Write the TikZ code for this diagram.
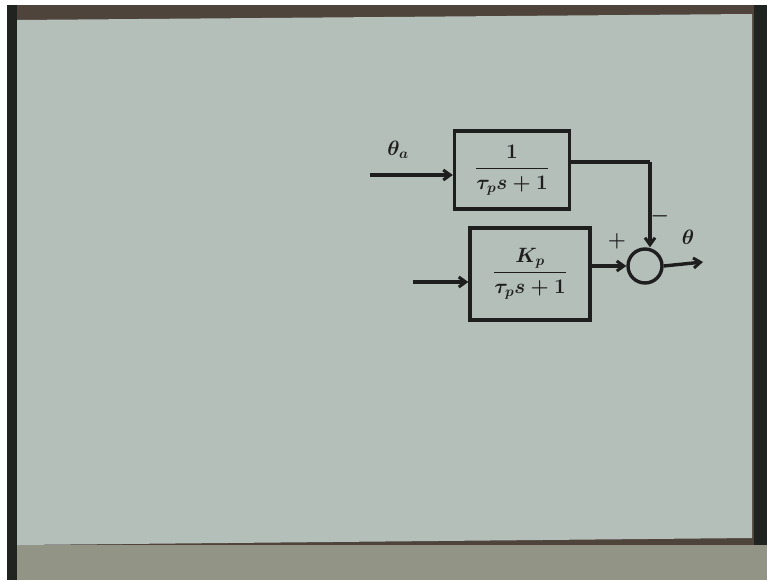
\documentclass[tikz,border=0pt]{standalone}
\usepackage{amsmath}
\usetikzlibrary{arrows.meta}
\definecolor{paper}{RGB}{180,191,185}
\definecolor{frame}{RGB}{78,68,60}
\definecolor{darkedge}{RGB}{32,36,32}
\definecolor{floor}{RGB}{146,148,134}
\definecolor{ink}{RGB}{30,30,30}
\tikzset{
  blockbox/.style={draw=ink, line width=3.4pt, minimum width=#1, inner sep=0pt, text=ink},
  wire/.style={draw=ink, line width=3.4pt},
  arr/.style={wire, -{Straight Barb[length=7pt,width=10pt,line width=3pt]}},
  lbl/.style={text=ink, font=\fontsize{22}{26}\selectfont\boldmath}
}
\begin{document}
\begin{tikzpicture}[x=1pt,y=-1pt]
\useasboundingbox (0,0) rectangle (767,580);
\fill[white] (0,0) rectangle (767,580);
\fill[frame] (7,5) rectangle (767,580);
\fill[darkedge] (7,5) rectangle (17,580);
\fill[darkedge] (754,5) rectangle (767,545);
\fill[floor] (17,545) rectangle (767,580);
\fill[paper] (17,20) -- (752,14) -- (752,538) -- (17,545) -- cycle;
% blocks
\node[blockbox=115pt, minimum height=78pt, lbl] (b1) at (512,170) {$\dfrac{\;1\;}{\tau_p s+1}$};
\node[blockbox=120pt, minimum height=92pt, lbl] (b2) at (530,274) {$\dfrac{K_p}{\tau_p s+1}$};
\node[draw=ink, line width=3.4pt, circle, minimum size=34pt, inner sep=0pt] (sum) at (645,266) {};
% coordinates
\coordinate (in1) at (370,175);
\coordinate (in2) at (413,282);
\coordinate (out) at (703,262);
\coordinate (corner) at (650,162);
% wires
\draw[arr] (in1) -- (in1 -| b1.west);
\draw[arr] (in2) -- (in2 -| b2.west);
\draw[wire] (b1.east |- corner) -- (corner);
\draw[arr] (corner) -- (sum.north -| corner);
\draw[arr] (b2.east |- sum.west) -- (sum.west);
\draw[arr] (sum.east) -- (out);
% labels
\node[lbl] (ta) at (398,150) {$\theta_a$};
\node[lbl] (minus) at (660,216) {$-$};
\node[lbl] (th) at (688,237) {$\theta$};
\node[lbl] (plus) at (617,241) {$+$};
\end{tikzpicture}
\end{document}
